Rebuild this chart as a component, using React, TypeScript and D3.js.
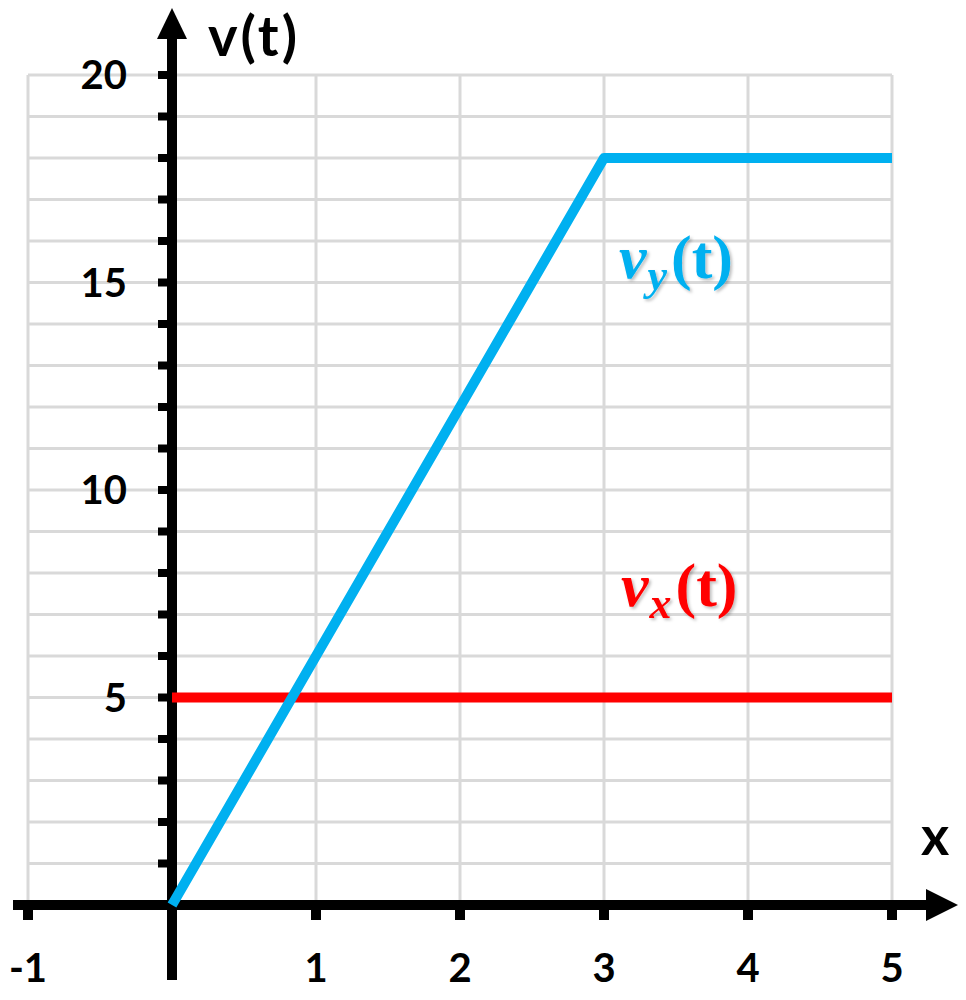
import { useEffect, useRef } from "react";
import * as d3 from "d3";

// grid and tick values
const xGridValues = [-1, 0, 1, 2, 3, 4, 5];
const xTickValues = [-1, 1, 2, 3, 4, 5];
const yGridValues = [1, 2, 3, 4, 5, 6, 7, 8, 9, 10, 11, 12, 13, 14, 15, 16, 17, 18, 19, 20];
const yLabelValues = [5, 10, 15, 20];

// series
const vyTimes = [0, 3, 5];
const vyValues = [0, 18, 18];
const vxTimes = [0, 5];
const vxValues = [5, 5];

const BLUE = "#00b0f0";
const RED = "#ff0000";

export default function App() {
  const svgRef = useRef<SVGSVGElement | null>(null);

  useEffect(() => {
    const width = 966;
    const height = 1000;
    const svg = d3.select(svgRef.current)
      .attr("viewBox", `0 0 ${width} ${height}`)
      .attr("width", width)
      .attr("height", height);
    svg.selectAll("*").remove();

    const x = d3.scaleLinear().domain([-1, 5]).range([28, 892]);
    const y = d3.scaleLinear().domain([0, 20]).range([905, 75]);

    const defs = svg.append("defs");
    const shadow = defs.append("filter").attr("id", "lbl-shadow")
      .attr("x", "-10%").attr("y", "-10%").attr("width", "130%").attr("height", "130%");
    shadow.append("feDropShadow")
      .attr("dx", 2).attr("dy", 2).attr("stdDeviation", 1.5)
      .attr("flood-color", "#000").attr("flood-opacity", 0.25);

    // light grid
    const grid = svg.append("g").attr("stroke", "#d9d9d9").attr("stroke-width", 3);
    grid.selectAll(".vgrid").data(xGridValues).enter().append("line")
      .attr("x1", d => x(d)).attr("x2", d => x(d))
      .attr("y1", y(20)).attr("y2", y(0));
    grid.selectAll(".hgrid").data(yGridValues).enter().append("line")
      .attr("x1", x(-1)).attr("x2", x(5))
      .attr("y1", d => y(d)).attr("y2", d => y(d));

    // axes
    const x0 = x(0);
    const y0 = y(0);
    const axes = svg.append("g").attr("fill", "#000");
    axes.append("line")
      .attr("x1", x0).attr("x2", x0).attr("y1", 980).attr("y2", 36)
      .attr("stroke", "#000").attr("stroke-width", 10);
    axes.append("path").attr("d", `M${x0},8 L${x0 + 15},39 L${x0 - 15},39 Z`);
    axes.append("line")
      .attr("x1", 13).attr("x2", 930).attr("y1", y0).attr("y2", y0)
      .attr("stroke", "#000").attr("stroke-width", 10);
    axes.append("path").attr("d", `M958,${y0} L926,${y0 - 16} L926,${y0 + 16} Z`);

    // y ticks on the left of the axis
    axes.selectAll(".ytick").data(yGridValues).enter().append("rect")
      .attr("x", x0 - 14).attr("width", 10)
      .attr("y", d => y(d) - 4).attr("height", 8);
    // x ticks below the axis
    axes.selectAll(".xtick").data(xTickValues).enter().append("rect")
      .attr("x", d => x(d) - 5).attr("width", 10)
      .attr("y", y0).attr("height", 15);

    const font = "Lato, 'Open Sans', sans-serif";
    svg.append("g").selectAll("text").data(yLabelValues).enter().append("text")
      .attr("x", 127).attr("y", d => y(d) + 14)
      .attr("text-anchor", "end")
      .attr("font-family", font).attr("font-weight", 700).attr("font-size", 40)
      .text(d => d);
    svg.append("g").selectAll("text").data(xTickValues).enter().append("text")
      .attr("x", d => x(d)).attr("y", 982)
      .attr("text-anchor", "middle")
      .attr("font-family", font).attr("font-weight", 700).attr("font-size", 40)
      .text(d => d);

    svg.append("text").attr("x", 208).attr("y", 56)
      .attr("font-family", font).attr("font-weight", 700).attr("font-size", 56)
      .attr("letter-spacing", 3)
      .text("v(t)");
    svg.append("text").attr("x", 921).attr("y", 855)
      .attr("font-family", font).attr("font-weight", 700).attr("font-size", 54)
      .text("x");

    // series lines
    const line = d3.line<[number, number]>()
      .x(d => x(d[0]))
      .y(d => y(d[1]));
    const vy = vyTimes.map((t, i) => [t, vyValues[i]] as [number, number]);
    const vx = vxTimes.map((t, i) => [t, vxValues[i]] as [number, number]);

    svg.append("path").datum(vx)
      .attr("d", line)
      .attr("fill", "none").attr("stroke", RED).attr("stroke-width", 10);
    svg.append("path").datum(vy)
      .attr("d", line)
      .attr("fill", "none").attr("stroke", BLUE).attr("stroke-width", 10)
      .attr("stroke-linejoin", "round");

    // math labels
    const mathLabel = (px: number, py: number, sub: string, color: string) => {
      const t = svg.append("text").attr("x", px).attr("y", py)
        .attr("fill", color).attr("font-family", "'Liberation Serif', 'DejaVu Serif', serif")
        .attr("font-weight", 700).attr("font-size", 62)
        .attr("filter", "url(#lbl-shadow)");
      t.append("tspan").attr("font-style", "italic").text("v");
      t.append("tspan").attr("font-style", "italic").attr("font-size", 44).attr("dy", 12).attr("dx", 1).text(sub);
      t.append("tspan").attr("dy", -12).attr("dx", 4).text("(t)");
    };
    mathLabel(619, 278, "y", BLUE);
    mathLabel(621, 606, "x", RED);
  }, []);

  return (
    <svg ref={svgRef} style={{ position: "absolute", left: 0, top: 0, display: "block", background: "#fff" }} />
  );
}
